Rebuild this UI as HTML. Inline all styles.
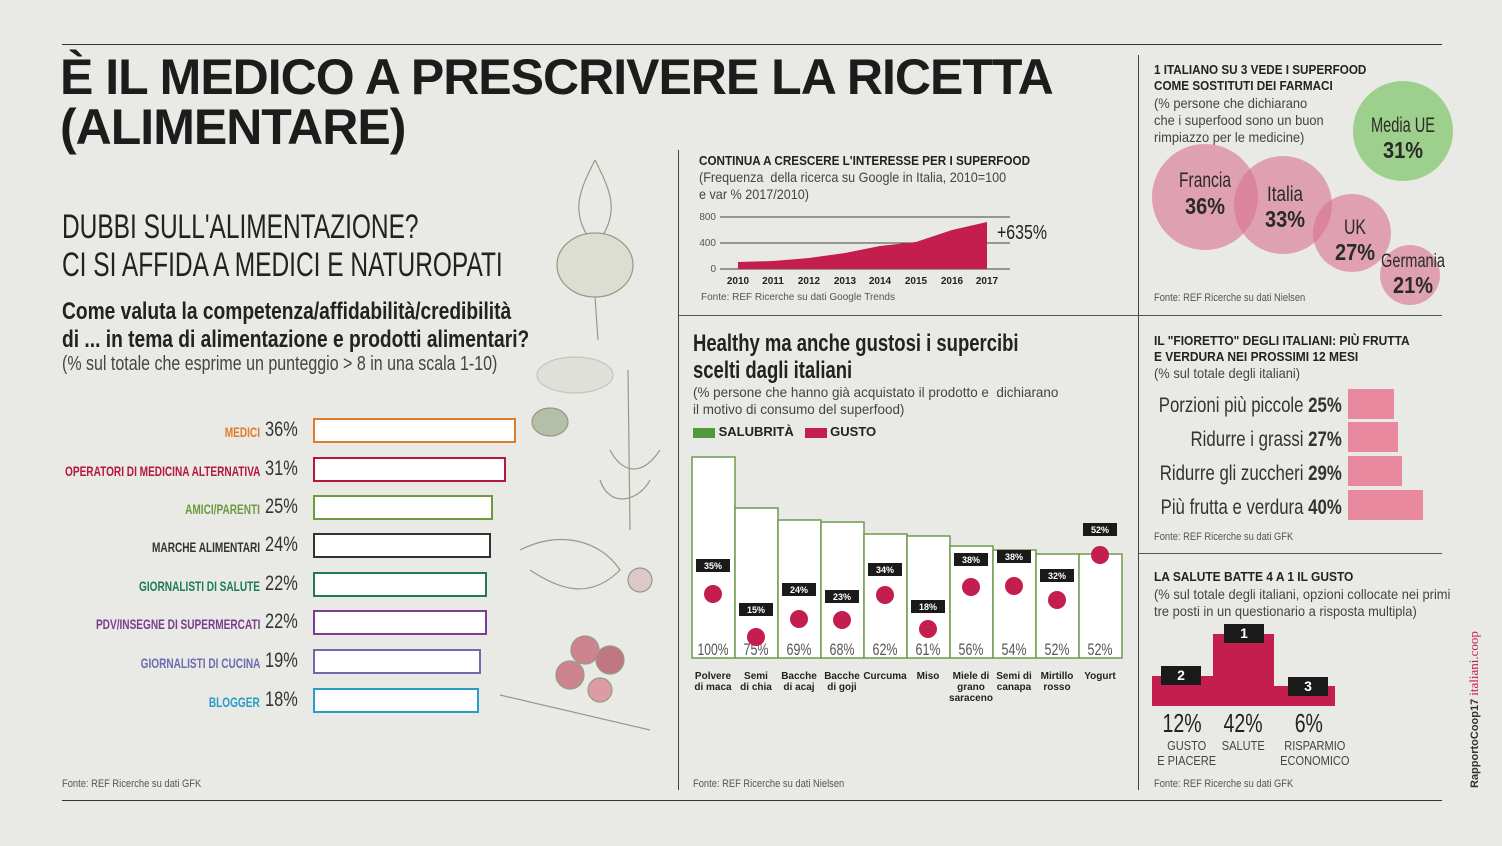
<!DOCTYPE html>
<html><head><meta charset="utf-8"><style>
*{margin:0;padding:0;box-sizing:border-box}
body{width:1502px;height:846px;background:#e9e9e6;position:relative;overflow:hidden;font-family:"Liberation Sans Narrow","Liberation Sans",sans-serif;color:#222}
.a{position:absolute;white-space:nowrap;transform-origin:left top}
.b{font-weight:bold}
.hr{position:absolute;background:#333;height:1px}
.vr{position:absolute;background:#444;width:1px}
.lbl{position:absolute;right:1242px;font-size:14px;font-weight:bold;text-align:right;white-space:nowrap;transform:scaleX(.72);transform-origin:right top}
.pct{position:absolute;left:265px;font-size:21px;color:#333;transform:scaleX(.78);transform-origin:left top}
.bar{position:absolute;left:313px;height:25px;border:2.5px solid;background:#fff}
.fs{font-size:11px;color:#555;transform:scaleX(.85)}
</style></head><body>
<div class="hr" style="left:62px;top:44px;width:1380px"></div>
<div class="hr" style="left:62px;top:800px;width:1380px"></div>
<div class="vr" style="left:678px;top:150px;height:640px"></div>
<div class="vr" style="left:1138px;top:55px;height:735px"></div>
<div class="hr" style="left:678px;top:315px;width:764px;background:#555"></div>
<div class="hr" style="left:1138px;top:553px;width:304px;background:#555"></div>

<svg class="a" style="left:500px;top:150px" width="180" height="590">
<g fill="none" stroke="#7d8a6a" stroke-width="1.2" opacity=".8">
<path d="M95 10 C80 40 70 60 90 90 M95 10 C110 40 120 60 100 90"/>
<ellipse cx="95" cy="115" rx="38" ry="32" fill="#d9dcd0"/>
<path d="M95 147 L98 190"/>
<ellipse cx="75" cy="225" rx="38" ry="18" fill="#dde0d6" stroke="#bbb"/>
<ellipse cx="50" cy="272" rx="18" ry="14" fill="#a8b49a"/>
<path d="M128 220 L130 380 M110 300 C120 320 140 330 160 300 M100 330 C110 360 140 350 150 330"/>
<path d="M20 400 C60 380 100 390 120 420 C90 450 60 440 30 420"/>
<circle cx="140" cy="430" r="12" fill="#d8c0c4"/>
<circle cx="85" cy="500" r="14" fill="#c86b7a"/><circle cx="110" cy="510" r="14" fill="#b85b6a"/><circle cx="70" cy="525" r="14" fill="#c86b7a"/><circle cx="100" cy="540" r="12" fill="#d98a96"/>
<path d="M0 545 L150 580"/>
</g></svg>

<div class="a b" style="left:60px;top:52px;font-size:50px;line-height:50px;font-family:'Liberation Sans',sans-serif;letter-spacing:-1px;color:#1c1c1c">È IL MEDICO A PRESCRIVERE LA RICETTA<br>(ALIMENTARE)</div>

<div class="a" style="left:62px;top:208px;font-size:34px;line-height:38px;color:#222;transform:scaleX(.72)">DUBBI SULL'ALIMENTAZIONE?<br>CI SI AFFIDA A MEDICI E NATUROPATI</div>
<div class="a b" style="left:62px;top:298px;font-size:24px;line-height:28px;transform:scaleX(.8)">Come valuta la competenza/affidabilità/credibilità<br>di ... in tema di alimentazione e prodotti alimentari?</div>
<div class="a" style="left:62px;top:353px;font-size:20px;color:#444;transform:scaleX(.8)">(% sul totale che esprime un punteggio &gt; 8 in una scala 1-10)</div>

<div class="lbl" style="top:424px;color:#e07b2a">MEDICI</div><div class="pct" style="top:418px">36%</div><div class="bar" style="top:418px;width:203px;border-color:#e07b2a"></div>
<div class="lbl" style="top:463px;color:#b5173f">OPERATORI DI MEDICINA ALTERNATIVA</div><div class="pct" style="top:457px">31%</div><div class="bar" style="top:457px;width:193px;border-color:#b5173f"></div>
<div class="lbl" style="top:501px;color:#6e9a3e">AMICI/PARENTI</div><div class="pct" style="top:495px">25%</div><div class="bar" style="top:495px;width:180px;border-color:#6e9a3e"></div>
<div class="lbl" style="top:539px;color:#333">MARCHE ALIMENTARI</div><div class="pct" style="top:533px">24%</div><div class="bar" style="top:533px;width:178px;border-color:#333"></div>
<div class="lbl" style="top:578px;color:#1d7a5a">GIORNALISTI DI SALUTE</div><div class="pct" style="top:572px">22%</div><div class="bar" style="top:572px;width:174px;border-color:#1d7a5a"></div>
<div class="lbl" style="top:616px;color:#7a3e8f">PDV/INSEGNE DI SUPERMERCATI</div><div class="pct" style="top:610px">22%</div><div class="bar" style="top:610px;width:174px;border-color:#7a3e8f"></div>
<div class="lbl" style="top:655px;color:#6e6bb0">GIORNALISTI DI CUCINA</div><div class="pct" style="top:649px">19%</div><div class="bar" style="top:649px;width:168px;border-color:#6e6bb0"></div>
<div class="lbl" style="top:694px;color:#2a9cc8">BLOGGER</div><div class="pct" style="top:688px">18%</div><div class="bar" style="top:688px;width:166px;border-color:#2a9cc8"></div>
<div class="a fs" style="left:62px;top:778px">Fonte: REF Ricerche su dati GFK</div>

<div class="a b" style="left:699px;top:153px;font-size:13px;transform:scaleX(.9)">CONTINUA A CRESCERE L'INTERESSE PER I SUPERFOOD</div>
<div class="a" style="left:699px;top:169px;font-size:14px;line-height:17px;color:#444;transform:scaleX(.9)">(Frequenza &nbsp;della ricerca su Google in Italia, 2010=100<br>e var % 2017/2010)</div>
<svg class="a" style="left:690px;top:208px" width="380" height="100">
<g font-family="Liberation Sans Narrow,Liberation Sans,sans-serif">
<text x="26" y="12" font-size="10" fill="#555" text-anchor="end">800</text>
<text x="26" y="38" font-size="10" fill="#555" text-anchor="end">400</text>
<text x="26" y="64" font-size="10" fill="#555" text-anchor="end">0</text>
<line x1="30" y1="9" x2="320" y2="9" stroke="#444"/>
<line x1="30" y1="35" x2="320" y2="35" stroke="#444"/>
<line x1="30" y1="61" x2="320" y2="61" stroke="#444"/>
<path d="M48 61 L48 54 L83 53 L119 50 L155 45 L190 38 L226 34 L262 22 L297 14 L297 61 Z" fill="#c41e4f"/>
<text x="307" y="31" font-size="20" fill="#222" textLength="50" lengthAdjust="spacingAndGlyphs">+635%</text>
<g font-size="10" font-weight="bold" text-anchor="middle" fill="#222">
<text x="48" y="76">2010</text><text x="83" y="76">2011</text><text x="119" y="76">2012</text><text x="155" y="76">2013</text><text x="190" y="76">2014</text><text x="226" y="76">2015</text><text x="262" y="76">2016</text><text x="297" y="76">2017</text></g>
<text x="11" y="92" font-size="10" fill="#555">Fonte: REF Ricerche su dati Google Trends</text>
</g></svg>

<div class="a b" style="left:693px;top:330px;font-size:24px;line-height:27px;transform:scaleX(.77)">Healthy ma anche gustosi i supercibi<br>scelti dagli italiani</div>
<div class="a" style="left:693px;top:384px;font-size:14px;line-height:17px;color:#444;transform:scaleX(.96)">(% persone che hanno già acquistato il prodotto e &nbsp;dichiarano<br>il motivo di consumo del superfood)</div>
<div class="a b" style="left:693px;top:424px;font-size:13px"><span style="display:inline-block;width:22px;height:10px;background:#4e9a3c;vertical-align:middle"></span> SALUBRITÀ &nbsp;&nbsp;<span style="display:inline-block;width:22px;height:10px;background:#c41e4f;vertical-align:middle"></span> GUSTO</div>

<svg class="a" style="left:680px;top:440px" width="460" height="270">
<g font-family="Liberation Sans Narrow,Liberation Sans,sans-serif">
<g fill="#fff" stroke="#6e9a4e" stroke-width="1.5">
<rect x="12" y="17" width="43" height="201"/><rect x="55" y="68" width="43" height="150"/><rect x="98" y="80" width="43" height="138"/><rect x="141" y="82" width="43" height="136"/><rect x="184" y="94" width="43" height="124"/><rect x="227" y="96" width="43" height="122"/><rect x="270" y="106" width="43" height="112"/><rect x="313" y="110" width="43" height="108"/><rect x="356" y="114" width="43" height="104"/><rect x="399" y="114" width="43" height="104"/>
</g>
<g font-size="17" fill="#555" text-anchor="middle" lengthAdjust="spacingAndGlyphs">
<text x="33" y="215" textLength="31" lengthAdjust="spacingAndGlyphs">100%</text><text x="76" y="215" textLength="25" lengthAdjust="spacingAndGlyphs">75%</text><text x="119" y="215" textLength="25" lengthAdjust="spacingAndGlyphs">69%</text><text x="162" y="215" textLength="25" lengthAdjust="spacingAndGlyphs">68%</text><text x="205" y="215" textLength="25" lengthAdjust="spacingAndGlyphs">62%</text><text x="248" y="215" textLength="25" lengthAdjust="spacingAndGlyphs">61%</text><text x="291" y="215" textLength="25" lengthAdjust="spacingAndGlyphs">56%</text><text x="334" y="215" textLength="25" lengthAdjust="spacingAndGlyphs">54%</text><text x="377" y="215" textLength="25" lengthAdjust="spacingAndGlyphs">52%</text><text x="420" y="215" textLength="25" lengthAdjust="spacingAndGlyphs">52%</text></g>
<g fill="#c41e4f">
<circle cx="33" cy="154" r="9"/><circle cx="76" cy="197" r="9"/><circle cx="119" cy="179" r="9"/><circle cx="162" cy="180" r="9"/><circle cx="205" cy="155" r="9"/><circle cx="248" cy="189" r="9"/><circle cx="291" cy="147" r="9"/><circle cx="334" cy="146" r="9"/><circle cx="377" cy="160" r="9"/><circle cx="420" cy="115" r="9"/></g>
<g fill="#1a1a1a">
<rect x="16" y="119" width="34" height="13"/><rect x="59" y="163" width="34" height="13"/><rect x="102" y="143" width="34" height="13"/><rect x="145" y="150" width="34" height="13"/><rect x="188" y="123" width="34" height="13"/><rect x="231" y="160" width="34" height="13"/><rect x="274" y="113" width="34" height="13"/><rect x="317" y="110" width="34" height="13"/><rect x="360" y="129" width="34" height="13"/><rect x="403" y="83" width="34" height="13"/></g>
<g font-size="9" font-weight="bold" fill="#fff" text-anchor="middle">
<text x="33" y="129">35%</text><text x="76" y="173">15%</text><text x="119" y="153">24%</text><text x="162" y="160">23%</text><text x="205" y="133">34%</text><text x="248" y="170">18%</text><text x="291" y="123">38%</text><text x="334" y="120">38%</text><text x="377" y="139">32%</text><text x="420" y="93">52%</text></g>
<g font-size="10" font-weight="bold" fill="#222" text-anchor="middle">
<text x="33" y="239">Polvere</text><text x="33" y="250">di maca</text>
<text x="76" y="239">Semi</text><text x="76" y="250">di chia</text>
<text x="119" y="239">Bacche</text><text x="119" y="250">di acaj</text>
<text x="162" y="239">Bacche</text><text x="162" y="250">di goji</text>
<text x="205" y="239">Curcuma</text>
<text x="248" y="239">Miso</text>
<text x="291" y="239">Miele di</text><text x="291" y="250">grano</text><text x="291" y="261">saraceno</text>
<text x="334" y="239">Semi di</text><text x="334" y="250">canapa</text>
<text x="377" y="239">Mirtillo</text><text x="377" y="250">rosso</text>
<text x="420" y="239">Yogurt</text></g>
</g></svg>
<div class="a fs" style="left:693px;top:778px">Fonte: REF Ricerche su dati Nielsen</div>

<div class="a b" style="left:1154px;top:62px;font-size:13px;line-height:16px;transform:scaleX(.9)">1 ITALIANO SU 3 VEDE I SUPERFOOD<br>COME SOSTITUTI DEI FARMACI</div>
<div class="a" style="left:1154px;top:95px;font-size:14px;line-height:17px;color:#444;transform:scaleX(.92)">(% persone che dichiarano<br>che i superfood sono un buon<br>rimpiazzo per le medicine)</div>
<svg class="a" style="left:1140px;top:60px" width="320" height="250">
<g font-family="Liberation Sans Narrow,Liberation Sans,sans-serif" text-anchor="middle">
<circle cx="263" cy="71" r="50" fill="#9dd08c"/>
<g fill="#d9728f" fill-opacity=".6">
<circle cx="65" cy="137" r="53"/><circle cx="143" cy="145" r="49"/><circle cx="212" cy="173" r="39"/><circle cx="270" cy="215" r="30"/></g>
<g fill="#2a2a2a">
<text x="263" y="72" font-size="21" textLength="64" lengthAdjust="spacingAndGlyphs">Media UE</text><text x="263" y="98" font-size="23" font-weight="bold" textLength="40" lengthAdjust="spacingAndGlyphs">31%</text>
<text x="65" y="127" font-size="21" textLength="52" lengthAdjust="spacingAndGlyphs">Francia</text><text x="65" y="154" font-size="23" font-weight="bold" textLength="40" lengthAdjust="spacingAndGlyphs">36%</text>
<text x="145" y="141" font-size="21" textLength="36" lengthAdjust="spacingAndGlyphs">Italia</text><text x="145" y="167" font-size="23" font-weight="bold" textLength="40" lengthAdjust="spacingAndGlyphs">33%</text>
<text x="215" y="174" font-size="21" textLength="22" lengthAdjust="spacingAndGlyphs">UK</text><text x="215" y="200" font-size="23" font-weight="bold" textLength="40" lengthAdjust="spacingAndGlyphs">27%</text>
<text x="273" y="207" font-size="19" textLength="64" lengthAdjust="spacingAndGlyphs">Germania</text><text x="273" y="233" font-size="23" font-weight="bold" textLength="40" lengthAdjust="spacingAndGlyphs">21%</text>
</g></g></svg>
<div class="a fs" style="left:1154px;top:292px">Fonte: REF Ricerche su dati Nielsen</div>

<div class="a b" style="left:1154px;top:333px;font-size:13px;line-height:16px;transform:scaleX(.92)">IL "FIORETTO" DEGLI ITALIANI: PIÙ FRUTTA<br>E VERDURA NEI PROSSIMI 12 MESI</div>
<div class="a" style="left:1154px;top:365px;font-size:14px;color:#444;transform:scaleX(.92)">(% sul totale degli italiani)</div>
<div class="a" style="right:160px;top:389px;font-size:21px;line-height:34px;text-align:right;color:#333;transform:scaleX(.8);transform-origin:right top">Porzioni più piccole <b>25%</b><br>Ridurre i grassi <b>27%</b><br>Ridurre gli zuccheri <b>29%</b><br>Più frutta e verdura <b>40%</b></div>
<div class="a" style="left:1348px;top:389px;width:46px;height:30px;background:#e8899f"></div>
<div class="a" style="left:1348px;top:422px;width:50px;height:30px;background:#e8899f"></div>
<div class="a" style="left:1348px;top:456px;width:54px;height:30px;background:#e8899f"></div>
<div class="a" style="left:1348px;top:490px;width:75px;height:30px;background:#e8899f"></div>
<div class="a fs" style="left:1154px;top:531px">Fonte: REF Ricerche su dati GFK</div>

<div class="a b" style="left:1154px;top:569px;font-size:13px;transform:scaleX(.92)">LA SALUTE BATTE 4 A 1 IL GUSTO</div>
<div class="a" style="left:1154px;top:586px;font-size:14px;line-height:17px;color:#444;transform:scaleX(.92)">(% sul totale degli italiani, opzioni collocate nei primi<br>tre posti in un questionario a risposta multipla)</div>
<div class="a" style="left:1152px;top:676px;width:61px;height:30px;background:#c41e4f"></div>
<div class="a" style="left:1213px;top:634px;width:61px;height:72px;background:#c41e4f"></div>
<div class="a" style="left:1274px;top:686px;width:61px;height:20px;background:#c41e4f"></div>
<div class="a b" style="left:1161px;top:666px;width:40px;height:19px;background:#1a1a1a;color:#fff;font-size:14px;text-align:center;line-height:19px">2</div>
<div class="a b" style="left:1224px;top:624px;width:40px;height:19px;background:#1a1a1a;color:#fff;font-size:14px;text-align:center;line-height:19px">1</div>
<div class="a b" style="left:1288px;top:677px;width:40px;height:19px;background:#1a1a1a;color:#fff;font-size:14px;text-align:center;line-height:19px">3</div>
<div class="a" style="left:1152px;top:708px;width:61px;text-align:center;font-size:26px"><span style="display:inline-block;transform:scaleX(.75)">12%</span></div>
<div class="a" style="left:1213px;top:708px;width:61px;text-align:center;font-size:26px"><span style="display:inline-block;transform:scaleX(.75)">42%</span></div>
<div class="a" style="left:1274px;top:708px;width:70px;text-align:center;font-size:26px"><span style="display:inline-block;transform:scaleX(.75)">6%</span></div>
<div class="a" style="left:1152px;top:738px;width:61px;text-align:center;font-size:13px;line-height:15px;color:#444"><span style="display:inline-block;transform:scaleX(.85)">GUSTO<br>E PIACERE</span></div>
<div class="a" style="left:1213px;top:738px;width:61px;text-align:center;font-size:13px;color:#444"><span style="display:inline-block;transform:scaleX(.85)">SALUTE</span></div>
<div class="a" style="left:1274px;top:738px;width:70px;text-align:center;font-size:13px;line-height:15px;color:#444"><span style="display:inline-block;transform:scaleX(.85)">RISPARMIO<br>ECONOMICO</span></div>
<div class="a fs" style="left:1154px;top:778px">Fonte: REF Ricerche su dati GFK</div>
<div class="a" style="left:1466px;top:788px;transform:rotate(-90deg);transform-origin:left top;font-size:11px;color:#333"><b>RapportoCoop17</b> <span style="color:#c41e4f;font-size:13px;font-family:'Liberation Serif',serif">italiani.coop</span></div>
</body></html>
